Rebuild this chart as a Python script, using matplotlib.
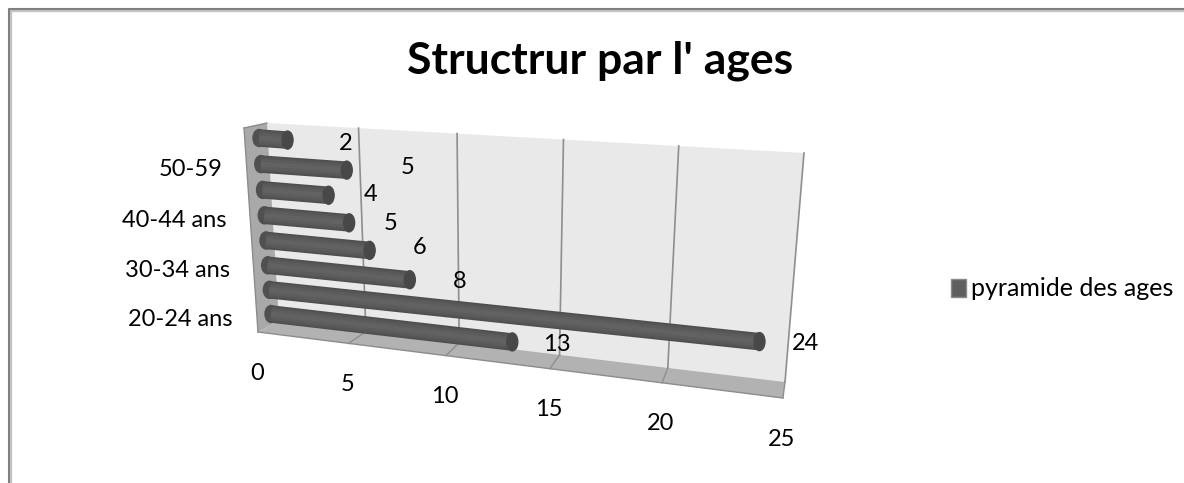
import numpy as np
import matplotlib
matplotlib.use("Agg")
import matplotlib.pyplot as plt
from matplotlib.patches import Ellipse, Patch

plt.rcParams['font.family'] = ['Lato', 'DejaVu Sans']

# Donnees
title = "Structrur par l' ages"
series_name = "pyramide des ages"
categories = ["20-24 ans", "", "30-34 ans", "", "40-44 ans", "", "50-59", ""]
values = [13, 24, 8, 6, 5, 4, 5, 2]
x_ticks = [0, 5, 10, 15, 20, 25]

XMAX = 25
NCAT = len(values)
FS = 17


# Homographie du carre unite vers un quadrilatere (perspective)
def make_proj(p00, p10, p01, p11):
    src = [(0, 0), (1, 0), (0, 1), (1, 1)]
    dst = [p00, p10, p01, p11]
    a, b = [], []
    for (u, v), (x, y) in zip(src, dst):
        a.append([u, v, 1, 0, 0, 0, -u * x, -v * x])
        a.append([0, 0, 0, u, v, 1, -u * y, -v * y])
        b.extend([x, y])
    h = np.linalg.solve(np.array(a, float), np.array(b, float))

    def proj(u, v):
        w = h[6] * u + h[7] * v + 1
        return (h[0] * u + h[1] * v + h[2]) / w, (h[3] * u + h[4] * v + h[5]) / w
    return proj


# Les plans de la "boite" 3D, en pixels
wall_h = make_proj((279, 321), (785, 382), (267, 123), (804, 153))
bars = make_proj((266, 314), (786, 372), (254, 138), (799, 168))


def wall(val, h):
    s = val / XMAX
    return wall_h(s * (1 - 0.033) / (1 - 0.033 * s), h)


def floor_front(val):
    s = val / XMAX
    x, y = wall(val, 0)
    return x - 21 + 19 * s, y + 11 + 5 * s


def bar_pt(val, cat):
    return bars(val / XMAX, cat / (NCAT - 1))


fig = plt.figure(figsize=(11.84, 4.83), dpi=100)
ax = fig.add_axes([0, 0, 1, 1])
ax.set_xlim(0, 1184)
ax.set_ylim(483, 0)
ax.axis('off')

# Cadre du graphique (pas de bord droit ni bas visibles)
ax.plot([9.5, 9.5, 1184], [483, 9.5, 9.5], color='#c4c4c4', lw=2.4, zorder=1)
ax.plot([8.5, 8.5, 1184], [483, 8.5, 8.5], color='#808080', lw=1.5, zorder=1)

# Fond, cote et sol
ax.fill(*zip(wall(0, 0), wall(XMAX, 0), wall(XMAX, 1), wall(0, 1)), color='#e9e9e9', lw=0, zorder=1)
ax.fill(*zip((244, 128), wall(0, 1), wall(0, 0), floor_front(0)), color='#a9a9a9', lw=0, zorder=2)
ax.plot(*zip((244, 128), wall(0, 1)), color='#8c8c8c', lw=1, zorder=2)
ax.plot(*zip((244, 128), floor_front(0)), color='#8c8c8c', lw=1, zorder=2)
ax.fill(*zip(wall(0, 0), wall(XMAX, 0), floor_front(XMAX), floor_front(0)), color='#b2b2b2', lw=0, zorder=2)
ax.plot(*zip(floor_front(0), floor_front(XMAX)), color='#8c8c8c', lw=1, zorder=3)

# Grille
for t in x_ticks[1:]:
    ax.plot(*zip(wall(t, 0), wall(t, 1)), color='#8e8e8e', lw=1.2, zorder=3)
    ax.plot(*zip(wall(t, 0), floor_front(t)), color='#8e8e8e', lw=1, zorder=3)

for t in x_ticks:
    fx, fy = floor_front(t)
    ax.text(fx - 1, fy + 41, str(t), fontsize=FS, ha='center', va='center', color='black', zorder=6)

# Barres cylindriques
shades = [(12.6, '#4e4e4e'), (10.5, '#565656'), (7.5, '#5c5c5c'), (3.5, '#626262')]
for i, val in enumerate(values):
    x0, y0 = bar_pt(0, i)
    x1, y1 = bar_pt(val, i)
    z = 4 + 0.01 * (NCAT - i)
    ax.add_patch(Ellipse((x0 + 5, y0), 12, 17, color='#505050', zorder=z))
    for lw_pt, col in shades:
        ax.plot([x0 + 5, x1 - 5], [y0, y1], color=col, lw=lw_pt, solid_capstyle='butt', zorder=z)
    ax.add_patch(Ellipse((x1 - 4, y1), 11, 18, color='#484848', zorder=z + 0.001))

# Etiquettes des categories
for i, lab in enumerate(categories):
    if lab:
        x0, y0 = bar_pt(0, i)
        ax.text(x0 - 33, y0 + 5, lab, fontsize=FS, ha='right', va='center', color='black', zorder=6)

# Etiquettes de valeurs, decalees comme sur l'original
nudge = [(41, 3), (42, 2), (46, 2), (46, -3), (37, 1), (38, -1), (57, -3), (54, 3)]
for i, val in enumerate(values):
    x1, y1 = bar_pt(val, i)
    ax.text(x1 + nudge[i][0], y1 + nudge[i][1], str(val), fontsize=FS, ha='center', va='center',
            color='black', zorder=6)

ax.text(600, 61, title, fontsize=32, fontweight='bold', ha='center', va='center', color='black')

ax.legend(handles=[Patch(facecolor='#5f5f5f', edgecolor='#8a8a8a', label=series_name)],
          loc='center left', bbox_to_anchor=(928, 289), bbox_transform=ax.transData,
          frameon=False, fontsize=18, handlelength=0.62, handleheight=0.75, handletextpad=0.2)

fig.savefig('out.png', dpi=100)
